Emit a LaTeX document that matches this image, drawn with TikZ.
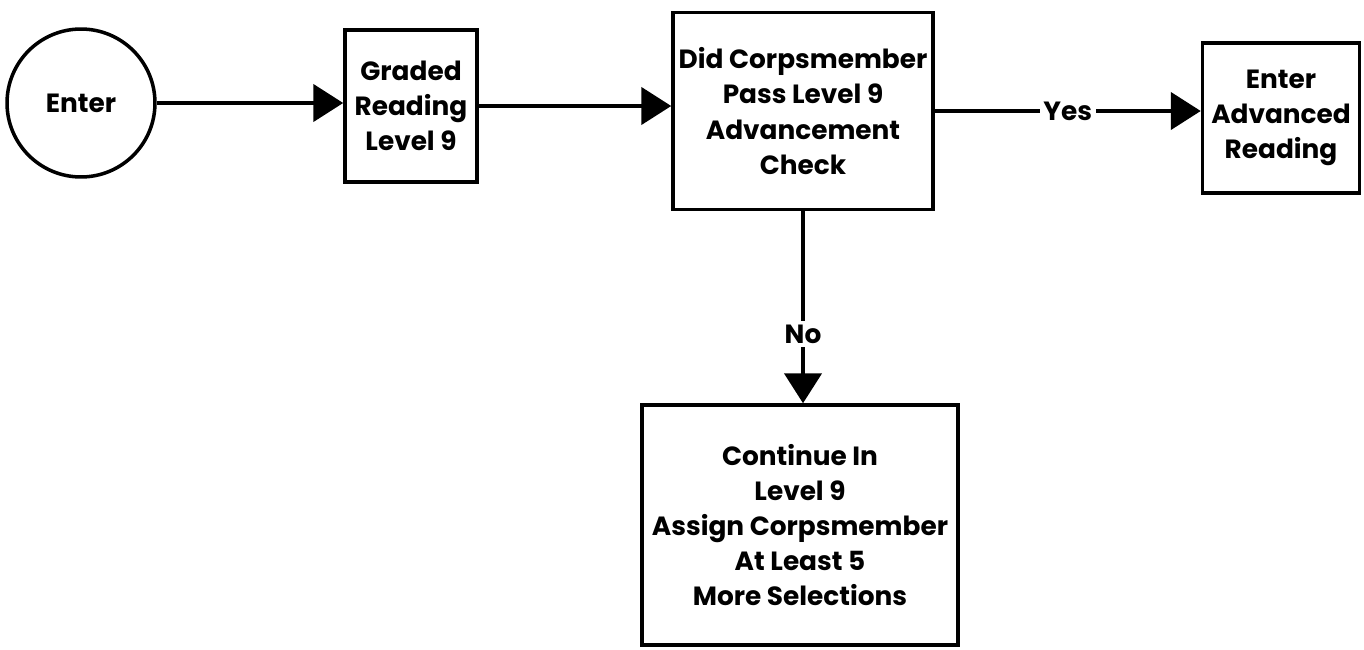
\documentclass[tikz,border=0pt]{standalone}
\usepackage{fontspec}
\setmainfont{Poppins}
\usetikzlibrary{arrows.meta}

\begin{document}
\begin{tikzpicture}[x=0.02cm, y=-0.02cm, font=\bfseries\fontsize{15}{20}\selectfont,
    box/.style={draw, line width=2pt, align=center, inner sep=0pt},
    flow/.style={line width=2.6pt, -{Triangle[length=0.6cm,width=0.74cm]}},
    tag/.style={fill=white, inner sep=2pt}]
      \useasboundingbox (0,0) rectangle (1364,649);
      \begin{scope}[shift={(0,0)}]
        %% boxes
        \node[box, circle, minimum size=2.96cm] (enter) at (81,103) {Enter};
        \node[box, minimum width=2.64cm, minimum height=3.04cm] (graded) at (411,106)
             {Graded\\Reading\\Level 9};
        \node[box, minimum width=5.2cm, minimum height=3.94cm] (check) at (803,111)
             {Did Corpsmember\\Pass Level 9\\Advancement\\Check};
        \node[box, minimum width=3.14cm, minimum height=3.0cm] (advanced) at (1281,118)
             {Enter\\Advanced\\Reading};
        \node[box, minimum width=6.32cm, minimum height=4.8cm] (continue) at (800,525)
             {Continue In\\Level 9\\Assign Corpsmember\\At Least 5\\More Selections};

        %% arrows
        \draw[flow] (enter.east) -- (enter.east -| graded.west);
        \draw[flow] (graded.east) -- (graded.east -| check.west);
        \draw[flow] (check.east) -- node[tag] {Yes} (check.east -| advanced.west);
        \draw[flow] (check.south) -- node[tag, pos=0.64] {No} (check.south |- continue.north);
      \end{scope}
\end{tikzpicture}
\end{document}
